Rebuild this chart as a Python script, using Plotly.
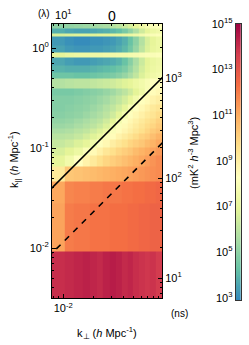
import numpy as np
import plotly.graph_objects as go

# ---------------- data ----------------
k_perp_edges = [0.0075, 0.0104, 0.0128, 0.0155, 0.0185, 0.0215, 0.0250, 0.0290,
                0.0335, 0.0385, 0.0440, 0.0500, 0.0570, 0.0650, 0.0740, 0.0840, 0.1000]
k_par_edges = [0.003, 0.0093, 0.0279, 0.0465, 0.0651, 0.0837, 0.1023, 0.1209, 0.1395,
               0.1581, 0.1767, 0.1953, 0.2325, 0.2697, 0.339, 0.398, 0.501, 0.575,
               0.676, 0.813, 0.912, 1.07, 1.29, 1.41, 1.58, 1.80]
log_power = [
    [14.0, 14.1, 14.2, 14.3, 14.2, 14.1, 14.3, 14.4, 14.3, 14.1, 14.2, 14.0, 13.9, 13.8, 13.9, 13.7],
    [11.2, 12.0, 12.1, 12.1, 12.2, 12.2, 12.2, 12.3, 12.3, 12.3, 12.4, 12.4, 12.5, 12.5, 12.6, 12.6],
    [11.1, 11.8, 11.9, 11.9, 12.0, 12.0, 12.1, 12.1, 12.1, 12.2, 12.2, 12.3, 12.3, 12.4, 12.4, 12.5],
    [9.2, 10.3, 10.4, 10.5, 10.6, 10.7, 10.8, 10.9, 11.0, 11.1, 11.2, 11.3, 11.4, 11.5, 11.6, 11.7],
    [7.0, 7.6, 8.3, 8.8, 9.2, 9.6, 9.9, 10.1, 10.3, 10.5, 10.7, 10.9, 11.1, 11.3, 11.5, 11.7],
    [6.6, 6.9, 7.3, 8.0, 8.5, 8.9, 9.3, 9.6, 9.9, 10.1, 10.3, 10.6, 10.8, 11.0, 11.2, 11.4],
    [6.2, 6.4, 6.7, 7.0, 7.5, 8.2, 8.6, 9.0, 9.3, 9.6, 9.9, 10.1, 10.3, 10.6, 10.8, 11.1],
    [5.9, 6.0, 6.2, 6.5, 6.8, 7.2, 8.0, 8.4, 8.8, 9.1, 9.4, 9.7, 10.0, 10.2, 10.5, 10.8],
    [5.6, 5.7, 5.9, 6.1, 6.4, 6.7, 7.2, 8.0, 8.4, 8.7, 9.0, 9.3, 9.6, 9.9, 10.2, 10.4],
    [5.3, 5.4, 5.6, 5.8, 6.0, 6.3, 6.7, 7.4, 8.1, 8.5, 8.8, 9.1, 9.4, 9.7, 9.9, 10.2],
    [5.1, 5.2, 5.4, 5.6, 5.8, 6.0, 6.4, 6.9, 7.7, 8.2, 8.6, 8.9, 9.2, 9.5, 9.7, 10.0],
    [4.9, 5.0, 5.1, 5.3, 5.5, 5.7, 6.0, 6.4, 6.9, 7.7, 8.2, 8.6, 8.9, 9.2, 9.4, 9.7],
    [4.8, 4.9, 5.0, 5.1, 5.3, 5.5, 5.8, 6.1, 6.5, 7.0, 7.8, 8.3, 8.6, 8.9, 9.2, 9.4],
    [4.8, 4.8, 4.9, 5.0, 5.1, 5.3, 5.5, 5.8, 6.1, 6.5, 7.0, 7.6, 8.2, 8.5, 8.8, 9.0],
    [4.6, 4.6, 4.7, 4.8, 4.9, 5.0, 5.2, 5.4, 5.7, 6.0, 6.4, 6.9, 7.4, 8.0, 8.4, 8.6],
    [5.8, 5.9, 6.0, 6.0, 6.1, 6.2, 6.3, 6.4, 6.6, 6.8, 7.0, 7.3, 7.6, 7.9, 8.2, 8.4],
    [4.4, 4.4, 4.3, 4.3, 4.4, 4.5, 4.6, 4.7, 4.9, 5.2, 5.6, 6.1, 6.7, 7.2, 7.5, 7.7],
    [3.9, 3.8, 3.8, 3.8, 3.9, 4.0, 4.1, 4.2, 4.4, 4.7, 5.2, 5.8, 6.5, 7.0, 7.3, 7.5],
    [3.6, 3.4, 3.3, 3.3, 3.4, 3.5, 3.6, 3.7, 3.9, 4.3, 4.9, 5.6, 6.3, 6.9, 7.2, 7.4],
    [7.0, 7.2, 7.3, 7.3, 7.4, 7.4, 7.5, 7.5, 7.6, 7.6, 7.7, 7.8, 7.9, 8.0, 8.0, 8.1],
    [3.5, 3.3, 3.2, 3.2, 3.3, 3.3, 3.4, 3.5, 3.7, 4.0, 4.5, 5.2, 6.0, 6.7, 7.1, 7.3],
    [3.3, 3.1, 3.0, 3.0, 3.1, 3.1, 3.2, 3.3, 3.5, 3.8, 4.3, 5.0, 5.8, 6.6, 7.0, 7.3],
    [6.6, 6.7, 6.8, 6.8, 6.8, 6.9, 6.9, 7.0, 7.1, 7.2, 7.3, 7.5, 7.7, 7.9, 8.0, 8.1],
    [3.8, 3.6, 3.5, 3.5, 3.6, 3.7, 3.8, 4.0, 4.2, 4.6, 5.1, 5.7, 6.4, 7.0, 7.3, 7.5],
    [5.0, 5.1, 5.2, 5.3, 5.4, 5.5, 5.6, 5.8, 6.0, 6.3, 6.6, 7.0, 7.4, 7.8, 8.0, 8.1],
]
horizon_coeff = 5.17
beam_coeff = 1.15
line_k_perp = [0.007, 0.11]

cmin, cmax = 2.9, 15.0
cb_ticks = [1e3, 1e5, 1e7, 1e9, 1e11, 1e13, 1e15]
cb_ticktext = ["10<sup>3</sup>", "10<sup>5</sup>", "10<sup>7</sup>", "10<sup>9</sup>",
               "10<sup>11</sup>", "10<sup>13</sup>", "10<sup>15</sup>"]

spectral = ["#3288bd", "#66c2a5", "#abdda4", "#e6f598", "#ffffbf",
            "#fee08b", "#fdae61", "#f46d43", "#d53e4f", "#9e0142"]
colorscale = [[i / (len(spectral) - 1), c] for i, c in enumerate(spectral)]

FONT = "Liberation Sans, Arial, Helvetica, sans-serif"

W, H = 249, 345
ml, mr, mt, mb = 52, 8, 24, 45
pw, ph = W - ml - mr, H - mt - mb


def px(x):
    return (x - ml) / pw


def py(y):
    return 1 - (y - mt) / ph


fig = go.Figure()

fig.add_trace(go.Heatmap(
    x=k_perp_edges, y=k_par_edges, z=log_power,
    colorscale=colorscale, zmin=cmin, zmax=cmax, showscale=False,
    xaxis="x", yaxis="y", hoverinfo="skip"))

lk = np.array(line_k_perp)
fig.add_trace(go.Scatter(x=lk, y=horizon_coeff * lk, mode="lines",
                         line=dict(color="black", width=1.6), showlegend=False,
                         xaxis="x", yaxis="y", hoverinfo="skip"))
fig.add_trace(go.Scatter(x=lk, y=beam_coeff * lk, mode="lines",
                         line=dict(color="black", width=1.6, dash="6px,6px"),
                         showlegend=False, xaxis="x", yaxis="y", hoverinfo="skip"))
# empty trace so the secondary (lambda / ns) axes get a subplot
fig.add_trace(go.Scatter(x=[], y=[], xaxis="x2", yaxis="y2", showlegend=False,
                         hoverinfo="skip"))

# colour bar strip
cb_log = np.linspace(cmin, cmax, 241)
cb_edges = 10 ** cb_log
cb_z = [[float(0.5 * (a + b))] * 2 for a, b in zip(cb_log[:-1], cb_log[1:])]
fig.add_trace(go.Heatmap(x=[0.0, 0.5, 1.0], y=cb_edges.tolist(), z=cb_z, colorscale=colorscale,
                         zmin=cmin, zmax=cmax, showscale=False,
                         xaxis="x3", yaxis="y3", hoverinfo="skip"))

tickfont = dict(family=FONT, size=11, color="black")
minor_common = dict(ticks="inside", ticklen=2, tickcolor="black", tickwidth=1, showgrid=False)
axis_common = dict(type="log", showgrid=False, zeroline=False, showline=True,
                   linecolor="black", linewidth=1, ticks="inside", ticklen=4,
                   tickcolor="black", tickwidth=1, tickfont=tickfont)

xdom = [0, px(162)]
ydom = [py(298), 1]

fig.update_layout(
    width=W, height=H, margin=dict(l=ml, r=mr, t=mt, b=mb),
    paper_bgcolor="white", plot_bgcolor="white", showlegend=False,
    font=dict(family=FONT, size=11, color="black"),
    xaxis=dict(domain=xdom, anchor="y", range=[-2.113, -1.013],
               tickvals=[0.01], ticktext=["10<sup>-2</sup>"],
               minor=dict(tickvals=[0.008, 0.009, 0.02, 0.03, 0.04, 0.05, 0.06, 0.07, 0.08, 0.09],
                          **minor_common),
               **axis_common),
    xaxis2=dict(overlaying="x", side="top", anchor="y2", range=[0.887, 1.987],
                tickvals=[10], ticktext=["10<sup>1</sup>"],
                minor=dict(tickvals=[8, 9, 20, 30, 40, 50, 60, 70, 80, 90], **minor_common),
                **axis_common),
    yaxis=dict(domain=ydom, anchor="x", range=[-2.5, 0.24],
               tickvals=[0.01, 0.1, 1], ticktext=["10<sup>-2</sup>", "10<sup>-1</sup>", "10<sup>0</sup>"],
               minor=dict(tickvals=[0.004, 0.005, 0.006, 0.007, 0.008, 0.009,
                                    0.02, 0.03, 0.04, 0.05, 0.06, 0.07, 0.08, 0.09,
                                    0.2, 0.3, 0.4, 0.5, 0.6, 0.7, 0.8, 0.9], **minor_common),
               **axis_common),
    yaxis2=dict(overlaying="y", side="right", anchor="x2", range=[0.8, 3.54],
                tickvals=[10, 100, 1000], ticktext=["10<sup>1</sup>", "10<sup>2</sup>", "10<sup>3</sup>"],
                minor=dict(tickvals=[7, 8, 9, 20, 30, 40, 50, 60, 70, 80, 90,
                                     200, 300, 400, 500, 600, 700, 800, 900, 2000, 3000], **minor_common),
                **axis_common),
    xaxis3=dict(domain=[px(235.7), 1], anchor="y3", range=[0, 1], showticklabels=False,
                ticks="", showgrid=False, zeroline=False, showline=True, mirror=True,
                linecolor="#333333", linewidth=1),
    yaxis3=dict(domain=[0, 1], anchor="x3", type="log", range=[cmin, cmax], side="left",
                tickvals=cb_ticks, ticktext=cb_ticktext, ticks="",
                showgrid=False, zeroline=False, showline=True, mirror=True,
                linecolor="#333333", linewidth=1, tickfont=tickfont),
)

ann = [
    dict(text="0", x=px(112), y=py(16), font=dict(size=14)),
    dict(text="(λ)", x=px(44), y=py(13), font=dict(size=10)),
    dict(text="(ns)", x=px(179), y=py(313), font=dict(size=10)),
    dict(text="k<sub>⊥</sub> (<i>h</i> Mpc<sup>-1</sup>)", x=px(107), y=py(333), font=dict(size=11)),
    dict(text="k<sub>||</sub> (<i>h</i> Mpc<sup>-1</sup>)", x=px(14), y=py(160), textangle=-90,
         font=dict(size=11)),
    dict(text="(mK<sup>2</sup> <i>h</i><sup>-3</sup> Mpc<sup>3</sup>)", x=px(193), y=py(153),
         textangle=-90, font=dict(size=11)),
]
for a in ann:
    fig.add_annotation(xref="paper", yref="paper", showarrow=False,
                       xanchor="center", yanchor="middle", **a)

fig.write_html("out.html", config={"displayModeBar": False, "staticPlot": True},
               post_script="document.body.style.margin='0px';document.body.style.overflow='hidden';")
